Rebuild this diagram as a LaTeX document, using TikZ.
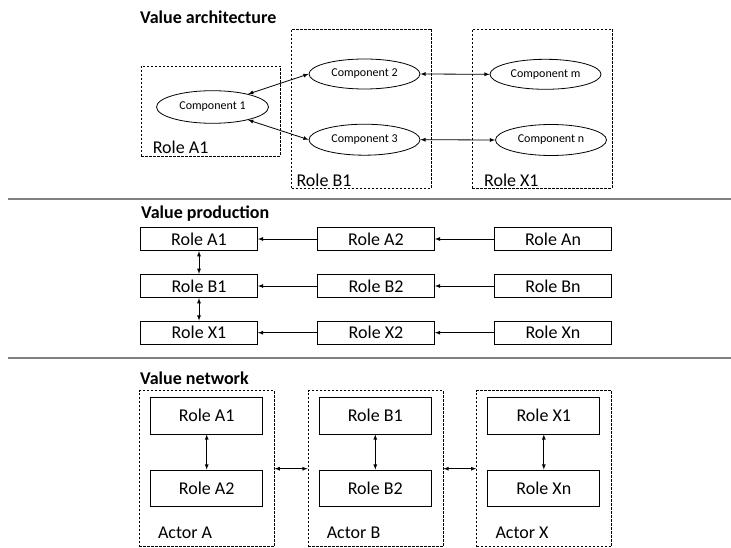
\documentclass[tikz,border=0pt]{standalone}
\usepackage{fontspec}
\setmainfont{Carlito}
\usetikzlibrary{arrows,shapes.geometric}
\tikzset{
	dashbox/.style={draw, dash pattern=on 2.5pt off 1.5pt, line width=0.8pt, inner sep=0pt},
	rolebox/.style={draw, line width=0.8pt, inner sep=0pt, font=\fontsize{18}{20}\selectfont},
	comp/.style={draw, ellipse, line width=0.8pt, inner sep=0pt, minimum width=111pt, minimum height=31pt, font=\fontsize{12}{14}\selectfont},
	heading/.style={anchor=west, inner sep=0pt, font=\bfseries\fontsize{18}{20}\selectfont},
	lbl/.style={anchor=west, inner sep=0pt, font=\fontsize{18}{20}\selectfont},
	divider/.style={line width=1.8pt, color=gray}
	}

\begin{document}
\begin{tikzpicture}[x=1pt, y=-1pt, >=latex]
	\useasboundingbox (0,0) rectangle (731,548);

	% section rules
	\draw[divider] (8,199) -- (731,199);
	\draw[divider] (8,358) -- (731,358);

	% headings
	\node[heading] (hArch) at (140,17) {Value architecture};
	\node[heading] (hProd) at (141,214) {Value production};
	\node[heading] (hNet) at (140,378) {Value network};

	% value architecture: roles
	\node[dashbox, minimum width=139pt, minimum height=90pt] (rA) at (210.5,111) {};
	\node[dashbox, minimum width=140pt, minimum height=159pt] (rB) at (361.7,108.5) {};
	\node[dashbox, minimum width=140pt, minimum height=159pt] (rX) at (542.3,108.5) {};
	\node[lbl] (lA) at ([xshift=12pt, yshift=9pt]rA.south west) {Role A1};
	\node[lbl] (lB) at ([xshift=5pt, yshift=8pt]rB.south west) {Role B1};
	\node[lbl] (lX) at ([xshift=12pt, yshift=8pt]rX.south west) {Role X1};

	% value architecture: components
	\node[comp, minimum width=112pt, minimum height=32.6pt] (c1) at (212.5,107) {Component 1};
	\node[comp, minimum height=30pt] (c2) at (364.5,74) {Component 2};
	\node[comp] (c3) at (364.5,139.7) {Component 3};
	\node[comp, minimum height=30pt] (cm) at (545.5,74.3) {Component m};
	\node[comp] (cn) at (551,140) {Component n};
	\draw[<->, line width=0.8pt] (c1.20) -- (c2.west);
	\draw[<->, line width=0.8pt] (c1.-20) -- (c3.west);
	\draw[<->, line width=0.8pt] (c2.east) -- (cm.west);
	\draw[<->, line width=0.8pt] (c3.east) -- (cn.west);

	% value production
	\node[rolebox, minimum width=117pt, minimum height=23.4pt] (pA1) at (199,239) {Role A1};
	\node[rolebox, minimum width=117pt, minimum height=23.4pt] (pA2) at (376,239) {Role A2};
	\node[rolebox, minimum width=117pt, minimum height=23.4pt] (pAn) at (553,239) {Role An};
	\node[rolebox, minimum width=117pt, minimum height=23.4pt] (pB1) at (199,286) {Role B1};
	\node[rolebox, minimum width=117pt, minimum height=23.4pt] (pB2) at (376,286) {Role B2};
	\node[rolebox, minimum width=117pt, minimum height=23.4pt] (pBn) at (553,286) {Role Bn};
	\node[rolebox, minimum width=117pt, minimum height=23.4pt] (pX1) at (199,332.7) {Role X1};
	\node[rolebox, minimum width=117pt, minimum height=23.4pt] (pX2) at (376,332.7) {Role X2};
	\node[rolebox, minimum width=117pt, minimum height=23.4pt] (pXn) at (553,332.7) {Role Xn};
	\draw[->, line width=0.8pt] (pA2) -- (pA1);
	\draw[->, line width=0.8pt] (pAn) -- (pA2);
	\draw[->, line width=0.8pt] (pB2) -- (pB1);
	\draw[->, line width=0.8pt] (pBn) -- (pB2);
	\draw[->, line width=0.8pt] (pX2) -- (pX1);
	\draw[->, line width=0.8pt] (pXn) -- (pX2);
	\draw[<->, line width=0.8pt] (pA1) -- (pB1);
	\draw[<->, line width=0.8pt] (pB1) -- (pX1);

	% value network: actors
	\node[dashbox, minimum width=135pt, minimum height=156pt] (actA) at (206.7,468.7) {};
	\node[dashbox, minimum width=135pt, minimum height=156pt] (actB) at (375.5,468.7) {};
	\node[dashbox, minimum width=135pt, minimum height=156pt] (actX) at (544.2,468.7) {};
	\node[lbl] (lActA) at ([xshift=19pt, yshift=14.7pt]actA.south west) {Actor A};
	\node[lbl] (lActB) at ([xshift=19pt, yshift=14.7pt]actB.south west) {Actor B};
	\node[lbl] (lActX) at ([xshift=19pt, yshift=14.7pt]actX.south west) {Actor X};
	\draw[<->, line width=0.8pt] (actA) -- (actB);
	\draw[<->, line width=0.8pt] (actB) -- (actX);

	% value network: roles
	\node[rolebox, minimum width=112pt, minimum height=36.7pt] (nA1) at (206.7,415.7) {Role A1};
	\node[rolebox, minimum width=112pt, minimum height=36.7pt] (nA2) at (206.7,488.3) {Role A2};
	\node[rolebox, minimum width=112pt, minimum height=36.7pt] (nB1) at (375.3,415.7) {Role B1};
	\node[rolebox, minimum width=112pt, minimum height=36.7pt] (nB2) at (375.3,488.3) {Role B2};
	\node[rolebox, minimum width=112pt, minimum height=36.7pt] (nX1) at (543.8,415.7) {Role X1};
	\node[rolebox, minimum width=112pt, minimum height=36.7pt] (nXn) at (543.8,488.3) {Role Xn};
	\draw[<->, line width=0.8pt] (nA1) -- (nA2);
	\draw[<->, line width=0.8pt] (nB1) -- (nB2);
	\draw[<->, line width=0.8pt] (nX1) -- (nXn);

\end{tikzpicture}
\end{document}
